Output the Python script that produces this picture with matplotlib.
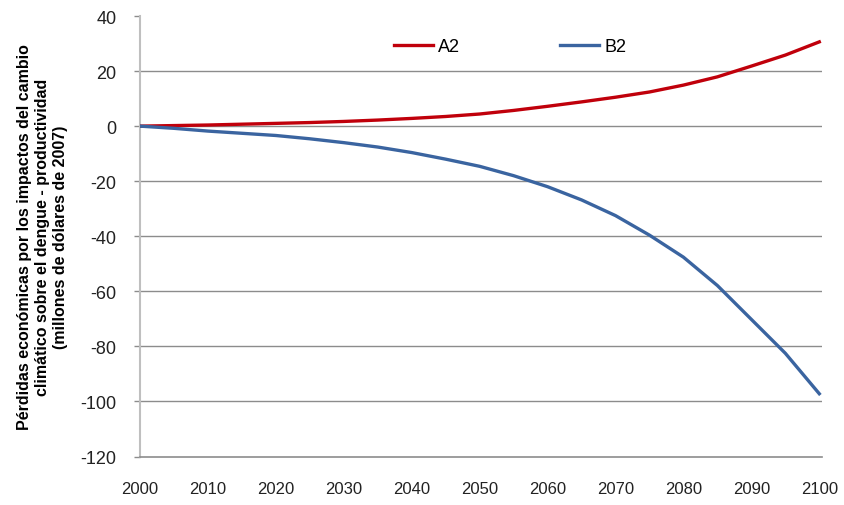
import matplotlib
matplotlib.use("Agg")
import matplotlib.pyplot as plt

years = [2000, 2005, 2010, 2015, 2020, 2025, 2030, 2035, 2040, 2045, 2050,
         2055, 2060, 2065, 2070, 2075, 2080, 2085, 2090, 2095, 2100]
a2 = [0, 0.2, 0.4, 0.7, 1.0, 1.3, 1.7, 2.2, 2.8, 3.5, 4.4,
      5.7, 7.2, 8.8, 10.5, 12.4, 14.9, 17.9, 21.8, 25.8, 30.6]
b2 = [0, -0.8, -1.8, -2.6, -3.4, -4.6, -6.0, -7.6, -9.6, -12.0, -14.6,
      -18.0, -22.0, -26.8, -32.5, -39.6, -47.6, -57.9, -70.2, -82.5, -97.2]
series_names = ["A2", "B2"]
xticks = [2000, 2010, 2020, 2030, 2040, 2050, 2060, 2070, 2080, 2090, 2100]
yticks = [-120, -100, -80, -60, -40, -20, 0, 20, 40]
ylabel = ("Pérdidas económicas por los impactos del cambio\n"
          "climático sobre el dengue - productividad\n"
          "(millones de dólares de 2007)")

plt.rcParams["font.family"] = ["Liberation Sans", "DejaVu Sans"]
plt.rcParams["axes.unicode_minus"] = False

fig = plt.figure(figsize=(8.45, 5.06), dpi=100)
ax = fig.add_axes([140 / 845, 48.5 / 506, 682 / 845, 440.5 / 506])

# horizontal grid, but not at the top edge
for v in yticks[1:-1]:
    ax.axhline(v, color="#8c8c8c", lw=1.0, zorder=1)

ax.plot(years, a2, color="#c0000b", lw=2.4, label=series_names[0], zorder=3,
        solid_joinstyle="round")
ax.plot(years, b2, color="#3a64a0", lw=2.4, label=series_names[1], zorder=3,
        solid_joinstyle="round")

ax.set_xlim(2000, 2100.4)
ax.set_ylim(-120, 40)
ax.set_xticks(xticks)
ax.set_yticks(yticks)
ax.tick_params(axis="y", length=4, width=1, color="#8c8c8c", pad=13,
               labelsize=13, labelcolor="#222222")
ax.tick_params(axis="x", length=0, pad=18, labelsize=12, labelcolor="#222222")

for side in ["top", "right"]:
    ax.spines[side].set_visible(False)
ax.spines["left"].set_color("#bfbfbf")
ax.spines["left"].set_linewidth(1.5)
ax.spines["bottom"].set_color("#8c8c8c")
ax.spines["bottom"].set_linewidth(1.2)

ax.set_ylabel(ylabel, fontsize=11.5, fontweight="bold", labelpad=9,
              linespacing=1.25)

leg = ax.legend(loc="center", bbox_to_anchor=(0.5425, 0.93), ncol=2,
                frameon=False, fontsize=13, handlelength=2.2,
                handletextpad=0.28, columnspacing=5.5)

fig.savefig("out.png", dpi=100)
